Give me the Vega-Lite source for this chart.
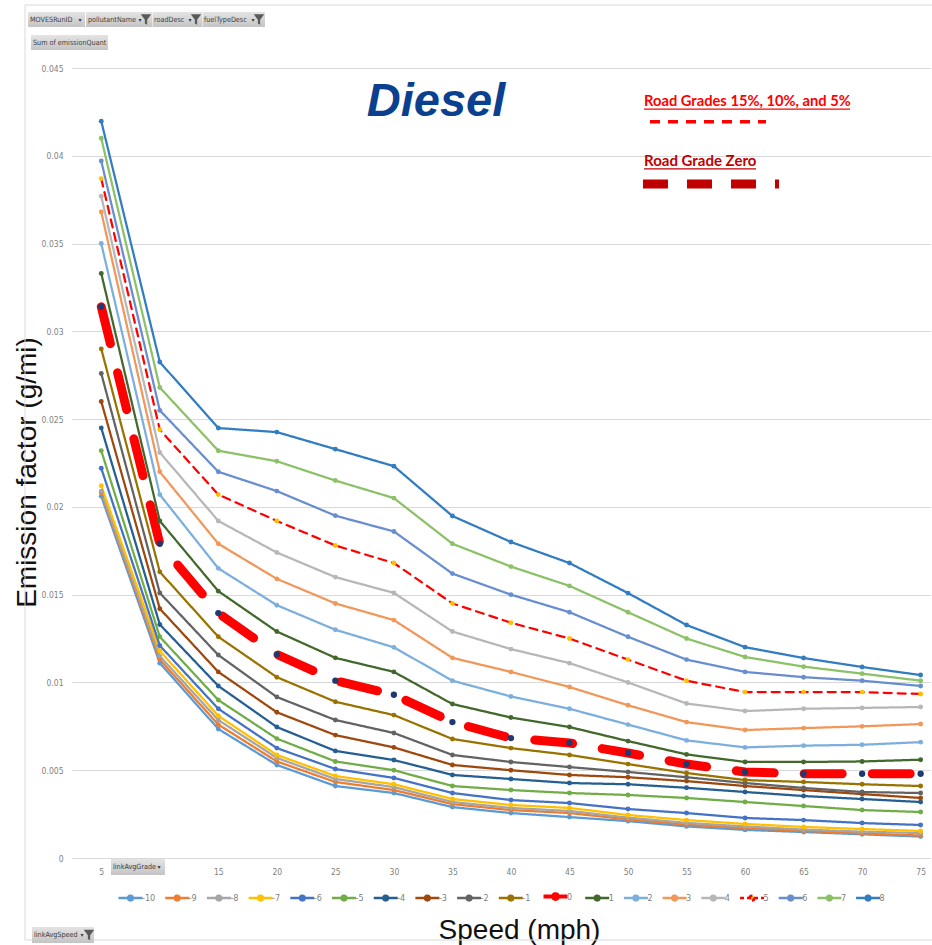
{
"$schema":"https://vega.github.io/schema/vega-lite/v6.json",
"width":858,"height":790,
"autosize":{"type":"none"},
"padding":{"left":72,"top":68,"right":2,"bottom":87},
"background":"white",
"config":{"view":{"stroke":null},"font":"Liberation Sans"},
"datasets":{"ef":[
{"speed":5,"grade":-10,"ef":0.0206},{"speed":10,"grade":-10,"ef":0.0111},{"speed":15,"grade":-10,"ef":0.00735},{"speed":20,"grade":-10,"ef":0.0053},{"speed":25,"grade":-10,"ef":0.0041},{"speed":30,"grade":-10,"ef":0.0037},{"speed":35,"grade":-10,"ef":0.0029},{"speed":40,"grade":-10,"ef":0.00256},{"speed":45,"grade":-10,"ef":0.00233},{"speed":50,"grade":-10,"ef":0.0021},{"speed":55,"grade":-10,"ef":0.0018},{"speed":60,"grade":-10,"ef":0.0016},{"speed":65,"grade":-10,"ef":0.00148},{"speed":70,"grade":-10,"ef":0.00135},{"speed":75,"grade":-10,"ef":0.00122},
{"speed":5,"grade":-9,"ef":0.0208},{"speed":10,"grade":-9,"ef":0.0113},{"speed":15,"grade":-9,"ef":0.0076},{"speed":20,"grade":-9,"ef":0.0055},{"speed":25,"grade":-9,"ef":0.00433},{"speed":30,"grade":-9,"ef":0.00387},{"speed":35,"grade":-9,"ef":0.00307},{"speed":40,"grade":-9,"ef":0.00273},{"speed":45,"grade":-9,"ef":0.00256},{"speed":50,"grade":-9,"ef":0.0022},{"speed":55,"grade":-9,"ef":0.0019},{"speed":60,"grade":-9,"ef":0.0017},{"speed":65,"grade":-9,"ef":0.00155},{"speed":70,"grade":-9,"ef":0.0014},{"speed":75,"grade":-9,"ef":0.00128},
{"speed":5,"grade":-8,"ef":0.0209},{"speed":10,"grade":-8,"ef":0.0115},{"speed":15,"grade":-8,"ef":0.00786},{"speed":20,"grade":-8,"ef":0.0057},{"speed":25,"grade":-8,"ef":0.0045},{"speed":30,"grade":-8,"ef":0.00404},{"speed":35,"grade":-8,"ef":0.00319},{"speed":40,"grade":-8,"ef":0.00285},{"speed":45,"grade":-8,"ef":0.00268},{"speed":50,"grade":-8,"ef":0.0023},{"speed":55,"grade":-8,"ef":0.002},{"speed":60,"grade":-8,"ef":0.0018},{"speed":65,"grade":-8,"ef":0.00162},{"speed":70,"grade":-8,"ef":0.0015},{"speed":75,"grade":-8,"ef":0.00142},
{"speed":5,"grade":-7,"ef":0.0212},{"speed":10,"grade":-7,"ef":0.0118},{"speed":15,"grade":-7,"ef":0.0081},{"speed":20,"grade":-7,"ef":0.00587},{"speed":25,"grade":-7,"ef":0.00467},{"speed":30,"grade":-7,"ef":0.0042},{"speed":35,"grade":-7,"ef":0.00336},{"speed":40,"grade":-7,"ef":0.00302},{"speed":45,"grade":-7,"ef":0.00285},{"speed":50,"grade":-7,"ef":0.00245},{"speed":55,"grade":-7,"ef":0.00216},{"speed":60,"grade":-7,"ef":0.00194},{"speed":65,"grade":-7,"ef":0.00177},{"speed":70,"grade":-7,"ef":0.00165},{"speed":75,"grade":-7,"ef":0.00154},
{"speed":5,"grade":-6,"ef":0.0222},{"speed":10,"grade":-6,"ef":0.0121},{"speed":15,"grade":-6,"ef":0.0085},{"speed":20,"grade":-6,"ef":0.00626},{"speed":25,"grade":-6,"ef":0.00507},{"speed":30,"grade":-6,"ef":0.00456},{"speed":35,"grade":-6,"ef":0.0037},{"speed":40,"grade":-6,"ef":0.0033},{"speed":45,"grade":-6,"ef":0.00313},{"speed":50,"grade":-6,"ef":0.00279},{"speed":55,"grade":-6,"ef":0.00256},{"speed":60,"grade":-6,"ef":0.00228},{"speed":65,"grade":-6,"ef":0.00216},{"speed":70,"grade":-6,"ef":0.00199},{"speed":75,"grade":-6,"ef":0.00188},
{"speed":5,"grade":-5,"ef":0.0232},{"speed":10,"grade":-5,"ef":0.0126},{"speed":15,"grade":-5,"ef":0.009},{"speed":20,"grade":-5,"ef":0.0068},{"speed":25,"grade":-5,"ef":0.0055},{"speed":30,"grade":-5,"ef":0.005},{"speed":35,"grade":-5,"ef":0.0041},{"speed":40,"grade":-5,"ef":0.00387},{"speed":45,"grade":-5,"ef":0.0037},{"speed":50,"grade":-5,"ef":0.00359},{"speed":55,"grade":-5,"ef":0.00342},{"speed":60,"grade":-5,"ef":0.00319},{"speed":65,"grade":-5,"ef":0.00296},{"speed":70,"grade":-5,"ef":0.00273},{"speed":75,"grade":-5,"ef":0.00262},
{"speed":5,"grade":-4,"ef":0.0245},{"speed":10,"grade":-4,"ef":0.0133},{"speed":15,"grade":-4,"ef":0.0098},{"speed":20,"grade":-4,"ef":0.00746},{"speed":25,"grade":-4,"ef":0.0061},{"speed":30,"grade":-4,"ef":0.00558},{"speed":35,"grade":-4,"ef":0.00473},{"speed":40,"grade":-4,"ef":0.0045},{"speed":45,"grade":-4,"ef":0.00427},{"speed":50,"grade":-4,"ef":0.0042},{"speed":55,"grade":-4,"ef":0.004},{"speed":60,"grade":-4,"ef":0.00376},{"speed":65,"grade":-4,"ef":0.00353},{"speed":70,"grade":-4,"ef":0.00336},{"speed":75,"grade":-4,"ef":0.00319},
{"speed":5,"grade":-3,"ef":0.026},{"speed":10,"grade":-3,"ef":0.0142},{"speed":15,"grade":-3,"ef":0.0106},{"speed":20,"grade":-3,"ef":0.0083},{"speed":25,"grade":-3,"ef":0.007},{"speed":30,"grade":-3,"ef":0.0063},{"speed":35,"grade":-3,"ef":0.0053},{"speed":40,"grade":-3,"ef":0.005},{"speed":45,"grade":-3,"ef":0.00473},{"speed":50,"grade":-3,"ef":0.0046},{"speed":55,"grade":-3,"ef":0.00438},{"speed":60,"grade":-3,"ef":0.0041},{"speed":65,"grade":-3,"ef":0.00387},{"speed":70,"grade":-3,"ef":0.00364},{"speed":75,"grade":-3,"ef":0.00342},
{"speed":5,"grade":-2,"ef":0.0276},{"speed":10,"grade":-2,"ef":0.0151},{"speed":15,"grade":-2,"ef":0.01156},{"speed":20,"grade":-2,"ef":0.00917},{"speed":25,"grade":-2,"ef":0.00786},{"speed":30,"grade":-2,"ef":0.00712},{"speed":35,"grade":-2,"ef":0.00587},{"speed":40,"grade":-2,"ef":0.00547},{"speed":45,"grade":-2,"ef":0.00518},{"speed":50,"grade":-2,"ef":0.0049},{"speed":55,"grade":-2,"ef":0.0046},{"speed":60,"grade":-2,"ef":0.00427},{"speed":65,"grade":-2,"ef":0.00399},{"speed":70,"grade":-2,"ef":0.00376},{"speed":75,"grade":-2,"ef":0.0037},
{"speed":5,"grade":-1,"ef":0.029},{"speed":10,"grade":-1,"ef":0.0163},{"speed":15,"grade":-1,"ef":0.0126},{"speed":20,"grade":-1,"ef":0.0103},{"speed":25,"grade":-1,"ef":0.0089},{"speed":30,"grade":-1,"ef":0.00814},{"speed":35,"grade":-1,"ef":0.00678},{"speed":40,"grade":-1,"ef":0.00626},{"speed":45,"grade":-1,"ef":0.00587},{"speed":50,"grade":-1,"ef":0.00535},{"speed":55,"grade":-1,"ef":0.00484},{"speed":60,"grade":-1,"ef":0.00444},{"speed":65,"grade":-1,"ef":0.00433},{"speed":70,"grade":-1,"ef":0.0042},{"speed":75,"grade":-1,"ef":0.0041},
{"speed":5,"grade":0,"ef":0.0314},{"speed":10,"grade":0,"ef":0.0179},{"speed":15,"grade":0,"ef":0.01395},{"speed":20,"grade":0,"ef":0.0116},{"speed":25,"grade":0,"ef":0.0101},{"speed":30,"grade":0,"ef":0.0093},{"speed":35,"grade":0,"ef":0.00774},{"speed":40,"grade":0,"ef":0.00683},{"speed":45,"grade":0,"ef":0.00655},{"speed":50,"grade":0,"ef":0.00598},{"speed":55,"grade":0,"ef":0.00535},{"speed":60,"grade":0,"ef":0.0049},{"speed":65,"grade":0,"ef":0.0048},{"speed":70,"grade":0,"ef":0.0048},{"speed":75,"grade":0,"ef":0.0048},
{"speed":5,"grade":1,"ef":0.0333},{"speed":10,"grade":1,"ef":0.0192},{"speed":15,"grade":1,"ef":0.0152},{"speed":20,"grade":1,"ef":0.0129},{"speed":25,"grade":1,"ef":0.0114},{"speed":30,"grade":1,"ef":0.0106},{"speed":35,"grade":1,"ef":0.00877},{"speed":40,"grade":1,"ef":0.008},{"speed":45,"grade":1,"ef":0.00746},{"speed":50,"grade":1,"ef":0.00666},{"speed":55,"grade":1,"ef":0.0059},{"speed":60,"grade":1,"ef":0.00547},{"speed":65,"grade":1,"ef":0.00547},{"speed":70,"grade":1,"ef":0.0055},{"speed":75,"grade":1,"ef":0.0056},
{"speed":5,"grade":2,"ef":0.035},{"speed":10,"grade":2,"ef":0.0207},{"speed":15,"grade":2,"ef":0.0165},{"speed":20,"grade":2,"ef":0.0144},{"speed":25,"grade":2,"ef":0.013},{"speed":30,"grade":2,"ef":0.012},{"speed":35,"grade":2,"ef":0.0101},{"speed":40,"grade":2,"ef":0.0092},{"speed":45,"grade":2,"ef":0.0085},{"speed":50,"grade":2,"ef":0.0076},{"speed":55,"grade":2,"ef":0.0067},{"speed":60,"grade":2,"ef":0.0063},{"speed":65,"grade":2,"ef":0.0064},{"speed":70,"grade":2,"ef":0.00645},{"speed":75,"grade":2,"ef":0.0066},
{"speed":5,"grade":3,"ef":0.0368},{"speed":10,"grade":3,"ef":0.022},{"speed":15,"grade":3,"ef":0.0179},{"speed":20,"grade":3,"ef":0.0159},{"speed":25,"grade":3,"ef":0.0145},{"speed":30,"grade":3,"ef":0.01355},{"speed":35,"grade":3,"ef":0.0114},{"speed":40,"grade":3,"ef":0.0106},{"speed":45,"grade":3,"ef":0.00974},{"speed":50,"grade":3,"ef":0.0087},{"speed":55,"grade":3,"ef":0.00774},{"speed":60,"grade":3,"ef":0.00729},{"speed":65,"grade":3,"ef":0.0074},{"speed":70,"grade":3,"ef":0.0075},{"speed":75,"grade":3,"ef":0.00763},
{"speed":5,"grade":4,"ef":0.0377},{"speed":10,"grade":4,"ef":0.0231},{"speed":15,"grade":4,"ef":0.0192},{"speed":20,"grade":4,"ef":0.0174},{"speed":25,"grade":4,"ef":0.016},{"speed":30,"grade":4,"ef":0.0151},{"speed":35,"grade":4,"ef":0.0129},{"speed":40,"grade":4,"ef":0.0119},{"speed":45,"grade":4,"ef":0.0111},{"speed":50,"grade":4,"ef":0.01},{"speed":55,"grade":4,"ef":0.0088},{"speed":60,"grade":4,"ef":0.00837},{"speed":65,"grade":4,"ef":0.0085},{"speed":70,"grade":4,"ef":0.00855},{"speed":75,"grade":4,"ef":0.0086},
{"speed":5,"grade":5,"ef":0.0387},{"speed":10,"grade":5,"ef":0.0244},{"speed":15,"grade":5,"ef":0.0207},{"speed":20,"grade":5,"ef":0.0192},{"speed":25,"grade":5,"ef":0.0178},{"speed":30,"grade":5,"ef":0.0168},{"speed":35,"grade":5,"ef":0.0145},{"speed":40,"grade":5,"ef":0.0134},{"speed":45,"grade":5,"ef":0.0125},{"speed":50,"grade":5,"ef":0.0113},{"speed":55,"grade":5,"ef":0.0101},{"speed":60,"grade":5,"ef":0.00945},{"speed":65,"grade":5,"ef":0.00945},{"speed":70,"grade":5,"ef":0.00945},{"speed":75,"grade":5,"ef":0.00934},
{"speed":5,"grade":6,"ef":0.0397},{"speed":10,"grade":6,"ef":0.0255},{"speed":15,"grade":6,"ef":0.022},{"speed":20,"grade":6,"ef":0.0209},{"speed":25,"grade":6,"ef":0.0195},{"speed":30,"grade":6,"ef":0.0186},{"speed":35,"grade":6,"ef":0.0162},{"speed":40,"grade":6,"ef":0.015},{"speed":45,"grade":6,"ef":0.014},{"speed":50,"grade":6,"ef":0.0126},{"speed":55,"grade":6,"ef":0.0113},{"speed":60,"grade":6,"ef":0.0106},{"speed":65,"grade":6,"ef":0.0103},{"speed":70,"grade":6,"ef":0.0101},{"speed":75,"grade":6,"ef":0.0098},
{"speed":5,"grade":7,"ef":0.041},{"speed":10,"grade":7,"ef":0.0268},{"speed":15,"grade":7,"ef":0.0232},{"speed":20,"grade":7,"ef":0.0226},{"speed":25,"grade":7,"ef":0.0215},{"speed":30,"grade":7,"ef":0.0205},{"speed":35,"grade":7,"ef":0.0179},{"speed":40,"grade":7,"ef":0.0166},{"speed":45,"grade":7,"ef":0.0155},{"speed":50,"grade":7,"ef":0.014},{"speed":55,"grade":7,"ef":0.0125},{"speed":60,"grade":7,"ef":0.01145},{"speed":65,"grade":7,"ef":0.0109},{"speed":70,"grade":7,"ef":0.0105},{"speed":75,"grade":7,"ef":0.0101},
{"speed":5,"grade":8,"ef":0.04197},{"speed":10,"grade":8,"ef":0.02825},{"speed":15,"grade":8,"ef":0.02449},{"speed":20,"grade":8,"ef":0.02426},{"speed":25,"grade":8,"ef":0.02329},{"speed":30,"grade":8,"ef":0.02232},{"speed":35,"grade":8,"ef":0.01948},{"speed":40,"grade":8,"ef":0.018},{"speed":45,"grade":8,"ef":0.0168},{"speed":50,"grade":8,"ef":0.01509},{"speed":55,"grade":8,"ef":0.01327},{"speed":60,"grade":8,"ef":0.01201},{"speed":65,"grade":8,"ef":0.01139},{"speed":70,"grade":8,"ef":0.01088},{"speed":75,"grade":8,"ef":0.01042}
]},
"encoding":{
 "x":{"field":"speed","type":"quantitative","scale":{"domain":[2.5,75.8],"nice":false,"zero":false},
  "axis":{"values":[5,10,15,20,25,30,35,40,45,50,55,60,65,70,75],"title":"Speed (mph)","grid":false,"domain":false,"ticks":false,"labelFlush":false,
   "labelColor":"#7F7F7F","labelFontSize":8.5,"labelFont":"Liberation Sans Narrow, DejaVu Sans Condensed","labelPadding":9,
   "titleFont":"Liberation Sans","titleFontSize":28,"titleFontWeight":"normal","titleColor":"#111111","titleX":447,"titleY":80,"titleBaseline":"alphabetic","titleAlign":"center"}},
 "y":{"field":"ef","type":"quantitative","scale":{"domain":[0,0.045],"nice":false,"zero":false},
  "axis":{"values":[0,0.005,0.01,0.015,0.02,0.025,0.03,0.035,0.04,0.045],"format":"~g","title":"Emission factor (g/mi)","grid":true,"gridColor":"#D9D9D9","gridWidth":1,"domain":false,"ticks":false,"labelFlush":false,
   "labelColor":"#7F7F7F","labelFontSize":8.5,"labelFont":"Liberation Sans Narrow, DejaVu Sans Condensed","labelPadding":9,
   "titleFont":"Liberation Sans","titleFontSize":28,"titleFontWeight":"normal","titleColor":"#111111","titleX":-37,"titleY":404,"titleAngle":-90,"titleBaseline":"alphabetic","titleAlign":"center"}}
},
"layer":[
{"data":{"values":[{"speed":-1.515,"speed2":76.5,"ef":0.04859,"ef2":-0.00467}]},
 "mark":{"type":"rect","fillOpacity":0,"stroke":"#D9D9D9","strokeWidth":1},
 "encoding":{"x2":{"field":"speed2"},"y2":{"field":"ef2"}}},
{"data":{"name":"ef"},
 "mark":{"type":"line","strokeCap":"round","strokeJoin":"round"},
 "encoding":{
  "color":{"field":"grade","type":"nominal",
   "scale":{"domain":[-10,-9,-8,-7,-6,-5,-4,-3,-2,-1,0,1,2,3,4,5,6,7,8],
    "range":["#5B9BD5","#ED7D31","#A5A5A5","#FFC000","#4472C4","#70AD47","#255E91","#9E480E","#636363","#997300","#FF0000","#43682B","#7CAFDD","#F1975A","#B7B7B7","#FF0000","#698ED0","#8CC168","#327DC2"]},
   "legend":{"orient":"none","legendX":54,"legendY":824,"direction":"horizontal","columns":19,"title":null,
    "symbolType":"M-1,0L1,0M-0.2,0A0.2,0.2,0,1,1,0.2,0A0.2,0.2,0,1,1,-0.2,0Z","symbolSize":576,"symbolStrokeWidth":2.5,
    "labelFontSize":9,"labelColor":"#7F7F7F","labelFont":"Liberation Sans Narrow, DejaVu Sans Condensed","labelOffset":7,"columnPadding":3.7,"padding":0,
    "encode":{"symbols":{"update":{"stroke":{"signal":"scale('color', datum.value)"},"fill":{"signal":"scale('fill', datum.value)"},"strokeWidth":{"signal":"datum.value === 0 ? 4 : 2.5"},"strokeDash":{"signal":"datum.value === 5 ? [4,3] : [1,0]"},"opacity":{"value":1},"fillOpacity":{"value":1}}}}}},
  "strokeWidth":{"condition":{"test":"datum.grade === 0","value":9},"value":2.25},
  "strokeDash":{"condition":[{"test":"datum.grade === 0","value":[38,30]},{"test":"datum.grade === 5","value":[8,6]}],"value":[1,0]}
 }},
{"data":{"name":"ef"},
 "mark":{"type":"circle","opacity":1},
 "encoding":{
  "fill":{"field":"grade","type":"nominal","legend":null,
   "scale":{"domain":[-10,-9,-8,-7,-6,-5,-4,-3,-2,-1,0,1,2,3,4,5,6,7,8],
    "range":["#5B9BD5","#ED7D31","#A5A5A5","#FFC000","#4472C4","#70AD47","#255E91","#9E480E","#636363","#997300","#1F3A6E","#43682B","#7CAFDD","#F1975A","#B7B7B7","#FFC000","#698ED0","#8CC168","#327DC2"]}},
  "size":{"condition":{"test":"datum.grade === 0","value":40},"value":24}
 }},
{"data":{"values":[{"speed":33.6,"ef":0.04226,"label":"Diesel"}]},
 "mark":{"type":"text","font":"Liberation Sans","fontSize":47,"fontWeight":"bold","fontStyle":"italic","color":"#0B3F8F","align":"center","baseline":"alphabetic"},
 "encoding":{"text":{"field":"label"}}},
{"data":{"values":[{"speed":51.37,"ef":0.04283,"label":"Road Grades 15%, 10%, and 5%"}]},
 "mark":{"type":"text","font":"Lato","fontSize":14.7,"fontWeight":"bold","color":"#FF0000","align":"left","baseline":"alphabetic"},
 "encoding":{"text":{"field":"label"}}},
{"data":{"values":[{"speed":51.37,"ef":0.03942,"label":"Road Grade Zero"}]},
 "mark":{"type":"text","font":"Lato","fontSize":15,"fontWeight":"bold","color":"#C00000","align":"left","baseline":"alphabetic"},
 "encoding":{"text":{"field":"label"}}},
{"data":{"values":[{"speed":51.37,"speed2":68.97,"ef":0.04266}]},
 "mark":{"type":"rule","color":"#FF0000","strokeWidth":1.2},
 "encoding":{"x2":{"field":"speed2"}}},
{"data":{"values":[{"speed":51.37,"speed2":60.94,"ef":0.03925}]},
 "mark":{"type":"rule","color":"#C00000","strokeWidth":1.2},
 "encoding":{"x2":{"field":"speed2"}}},
{"data":{"values":[{"speed":51.88,"speed2":61.79,"ef":0.04194}]},
 "mark":{"type":"rule","color":"#FF0000","strokeWidth":3.5,"strokeDash":[10,8]},
 "encoding":{"x2":{"field":"speed2"}}},
{"data":{"values":[{"speed":51.28,"speed2":62.9,"ef":0.03839}]},
 "mark":{"type":"rule","color":"#C00000","strokeWidth":9,"strokeDash":[25,19]},
 "encoding":{"x2":{"field":"speed2"}}},
{"data":{"values":[
  {"speed":-1.259,"speed2":3.611,"ef":0.04819,"ef2":0.04733},
  {"speed":3.696,"speed2":9.335,"ef":0.04819,"ef2":0.04733},
  {"speed":9.378,"speed2":13.606,"ef":0.04819,"ef2":0.04733},
  {"speed":13.649,"speed2":18.989,"ef":0.04819,"ef2":0.04733},
  {"speed":-1.003,"speed2":5.576,"ef":0.04688,"ef2":0.04602},
  {"speed":5.832,"speed2":10.445,"ef":-0.000057,"ef2":-0.000968},
  {"speed":-0.917,"speed2":4.38,"ef":-0.00393,"ef2":-0.004842}]},
 "mark":{"type":"rect","fill":{"gradient":"linear","x1":0,"y1":0,"x2":0,"y2":1,"stops":[{"offset":0,"color":"#E4E4E4"},{"offset":1,"color":"#C4C4C4"}]}},
 "encoding":{"x2":{"field":"speed2"},"y2":{"field":"ef2"}}},
{"data":{"values":[
  {"speed":-1.088,"ef":0.04776,"label":"MOVESRunID"},
  {"speed":3.867,"ef":0.04776,"label":"pollutantName"},
  {"speed":9.506,"ef":0.04776,"label":"roadDesc"},
  {"speed":13.777,"ef":0.04776,"label":"fuelTypeDesc"},
  {"speed":-0.832,"ef":0.04645,"label":"Sum of emissionQuant"},
  {"speed":6.003,"ef":-0.000513,"label":"linkAvgGrade"},
  {"speed":-0.746,"ef":-0.004386,"label":"linkAvgSpeed"}]},
 "mark":{"type":"text","font":"Liberation Sans Narrow, DejaVu Sans Condensed","fontSize":7.2,"color":"#404040","align":"left","baseline":"middle"},
 "encoding":{"text":{"field":"label"}}},
{"data":{"values":[
  {"speed":3.183,"ef":0.04776,"label":"▾"},
  {"speed":8.31,"ef":0.04776,"label":"▾"},
  {"speed":12.58,"ef":0.04776,"label":"▾"},
  {"speed":17.96,"ef":0.04776,"label":"▾"},
  {"speed":9.933,"ef":-0.000513,"label":"▾"},
  {"speed":3.354,"ef":-0.004386,"label":"▾"}]},
 "mark":{"type":"text","font":"DejaVu Sans","fontSize":6,"color":"#404040","align":"center","baseline":"middle"},
 "encoding":{"text":{"field":"label"}}},
{"data":{"values":[
  {"speed":8.822,"ef":0.04776},
  {"speed":13.094,"ef":0.04776},
  {"speed":18.476,"ef":0.04776},
  {"speed":3.952,"ef":-0.004386}]},
 "mark":{"type":"point","filled":true,"shape":"M-1,-1L1,-1L0.22,0.05L0.22,1L-0.22,0.75L-0.22,0.05Z","size":110,"color":"#595959","opacity":1}}
]
}
